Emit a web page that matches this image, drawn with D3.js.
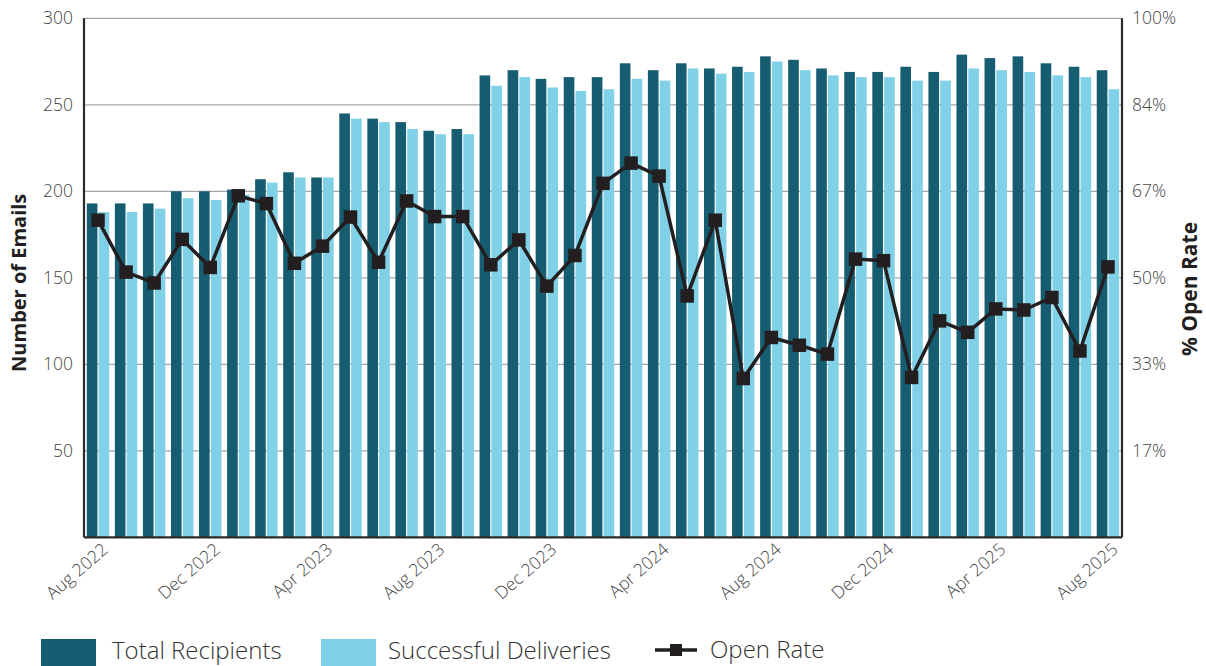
<!DOCTYPE html>
<html>
<head>
<meta charset="utf-8">
<script src="https://cdn.jsdelivr.net/npm/d3@7"></script>
<style>
  html, body { margin: 0; padding: 0; background: #fff; }
  svg { display: block; font-family: "Open Sans", "Noto Sans", sans-serif; }
</style>
</head>
<body>
<svg id="chart" width="1206" height="666"></svg>
<script>
// Monthly email campaign figures, Aug 2022 – Aug 2025
const months = [
  "Aug 2022","Sep 2022","Oct 2022","Nov 2022","Dec 2022","Jan 2023","Feb 2023","Mar 2023",
  "Apr 2023","May 2023","Jun 2023","Jul 2023","Aug 2023","Sep 2023","Oct 2023","Nov 2023",
  "Dec 2023","Jan 2024","Feb 2024","Mar 2024","Apr 2024","May 2024","Jun 2024","Jul 2024",
  "Aug 2024","Sep 2024","Oct 2024","Nov 2024","Dec 2024","Jan 2025","Feb 2025","Mar 2025",
  "Apr 2025","May 2025","Jun 2025","Jul 2025","Aug 2025"
];
const totalRecipients = [
  193,193,193,200,200,201,207,211,208,245,242,240,235,236,267,270,
  265,266,266,274,270,274,271,272,278,276,271,269,269,272,269,279,
  277,278,274,272,270
];
const successfulDeliveries = [
  188,188,190,196,195,198,205,208,208,242,240,236,233,233,261,266,
  260,258,259,265,264,271,268,269,275,270,267,266,266,264,264,271,
  270,269,267,266,259
];
const openRate = [
  61.1,51.1,49.0,57.4,52.0,65.8,64.3,52.8,56.1,61.7,53.0,64.8,61.8,61.8,52.5,57.3,
  48.4,54.3,68.2,72.1,69.6,46.5,61.1,30.6,38.5,37.0,35.3,53.6,53.3,30.8,41.7,39.5,
  44.0,43.8,46.2,35.9,52.1
];
const leftTicks = [50, 100, 150, 200, 250, 300];
const rightTickValues = [50/3, 100/3, 50, 200/3, 250/3, 100];
const rightTickLabels = ["17%", "33%", "50%", "67%", "84%", "100%"];
const xTickLabels = ["Aug 2022","Dec 2022","Apr 2023","Aug 2023","Dec 2023","Apr 2024","Aug 2024","Dec 2024","Apr 2025","Aug 2025"];
const seriesNames = ["Total Recipients", "Successful Deliveries"];
const lineName = "Open Rate";

const colors = { total: "#175d72", delivered: "#80d1e8", line: "#231f20" };

const svg = d3.select("#chart");
const m = { left: 84, right: 1122, top: 18.3, bottom: 537.3 };

const x0 = d3.scaleBand().domain(months).range([m.left, m.right])
  .paddingInner(0.2).paddingOuter(0.1);
const x1 = d3.scaleBand().domain(seriesNames).range([0, x0.bandwidth()]).paddingInner(0.1);
const y = d3.scaleLinear().domain([0, 300]).range([m.bottom, m.top]);
const yR = d3.scaleLinear().domain([0, 100]).range([m.bottom, m.top]);

// horizontal gridlines
svg.append("g")
  .selectAll("line").data(leftTicks).join("line")
  .attr("x1", m.left).attr("x2", m.right)
  .attr("y1", d => y(d)).attr("y2", d => y(d))
  .attr("stroke", "#a6a6a6").attr("stroke-width", 1.2);

// grouped bars
const rows = months.map((mo, i) => ({
  month: mo,
  vals: [
    { key: seriesNames[0], v: totalRecipients[i], c: colors.total },
    { key: seriesNames[1], v: successfulDeliveries[i], c: colors.delivered }
  ]
}));
svg.append("g").selectAll("g").data(rows).join("g")
  .attr("transform", d => `translate(${x0(d.month)},0)`)
  .selectAll("rect").data(d => d.vals).join("rect")
  .attr("x", d => x1(d.key))
  .attr("width", x1.bandwidth())
  .attr("y", d => y(d.v))
  .attr("height", d => y(0) - y(d.v))
  .attr("fill", d => d.c);

const tickFont = sel => sel.attr("font-size", 17.5).attr("font-weight", 300)
  .attr("fill", "#444").attr("font-family", "'Open Sans', sans-serif");

// left axis
const leftAxis = svg.append("g").attr("transform", `translate(${m.left},0)`)
  .call(d3.axisLeft(y).tickValues(leftTicks).tickSize(0).tickPadding(11));
leftAxis.select(".domain").attr("stroke", "#2b2b2b").attr("stroke-width", 2.2)
  .attr("d", `M0,${m.top}V${m.bottom}`);
leftAxis.selectAll("text").call(tickFont);

// right axis
const rightAxis = svg.append("g").attr("transform", `translate(${m.right},0)`)
  .call(d3.axisRight(yR).tickValues(rightTickValues)
    .tickFormat((d, i) => rightTickLabels[i]).tickSize(0).tickPadding(10));
rightAxis.select(".domain").attr("stroke", "#2b2b2b").attr("stroke-width", 2.2)
  .attr("d", `M0,${m.top}V${m.bottom}`);
rightAxis.selectAll("text").call(tickFont);

// bottom axis
const bottomAxis = svg.append("g").attr("transform", `translate(0,${m.bottom})`)
  .call(d3.axisBottom(x0).tickValues(xTickLabels).tickSize(0).tickPadding(0));
bottomAxis.select(".domain").attr("stroke", "#2b2b2b").attr("stroke-width", 2.2)
  .attr("d", `M${m.left},0H${m.right}`);
bottomAxis.selectAll("text").call(tickFont)
  .attr("text-anchor", "end")
  .attr("dy", 0)
  .attr("transform", "translate(11,14) rotate(-41)");

// axis titles
svg.append("text")
  .attr("transform", `translate(26,${(m.top + m.bottom) / 2 + 5}) rotate(-90)`)
  .attr("text-anchor", "middle")
  .attr("font-size", 20).attr("font-weight", 700).attr("fill", "#231f20")
  .text("Number of Emails");
svg.append("text")
  .attr("transform", `translate(1197,289) rotate(-90)`)
  .attr("text-anchor", "middle")
  .attr("font-size", 21).attr("font-weight", 700).attr("fill", "#231f20")
  .text("% Open Rate");

// open rate line
const cx = d => x0(d) + x0.bandwidth() / 2;
const line = d3.line().x((d, i) => cx(months[i])).y(d => yR(d));
svg.append("path").datum(openRate)
  .attr("d", line).attr("fill", "none")
  .attr("stroke", colors.line).attr("stroke-width", 3.5).attr("stroke-linejoin", "round");
const sq = 13.5;
svg.append("g").selectAll("rect").data(openRate).join("rect")
  .attr("x", (d, i) => cx(months[i]) - sq / 2)
  .attr("y", d => yR(d) - sq / 2)
  .attr("width", sq).attr("height", sq)
  .attr("fill", colors.line);

// legend
const lg = svg.append("g").attr("font-size", 24).attr("font-weight", 300).attr("fill", "#333");
lg.append("rect").attr("x", 41).attr("y", 639).attr("width", 55).attr("height", 30).attr("fill", colors.total);
lg.append("text").attr("x", 112).attr("y", 659).text(seriesNames[0]);
lg.append("rect").attr("x", 321).attr("y", 639).attr("width", 55).attr("height", 30).attr("fill", colors.delivered);
lg.append("text").attr("x", 388).attr("y", 659).text(seriesNames[1]);
lg.append("line").attr("x1", 655).attr("x2", 697).attr("y1", 650).attr("y2", 650)
  .attr("stroke", colors.line).attr("stroke-width", 3.5);
lg.append("rect").attr("x", 670).attr("y", 644).attr("width", 12).attr("height", 12).attr("fill", colors.line);
lg.append("text").attr("x", 710).attr("y", 658).text(lineName);
</script>
</body>
</html>
